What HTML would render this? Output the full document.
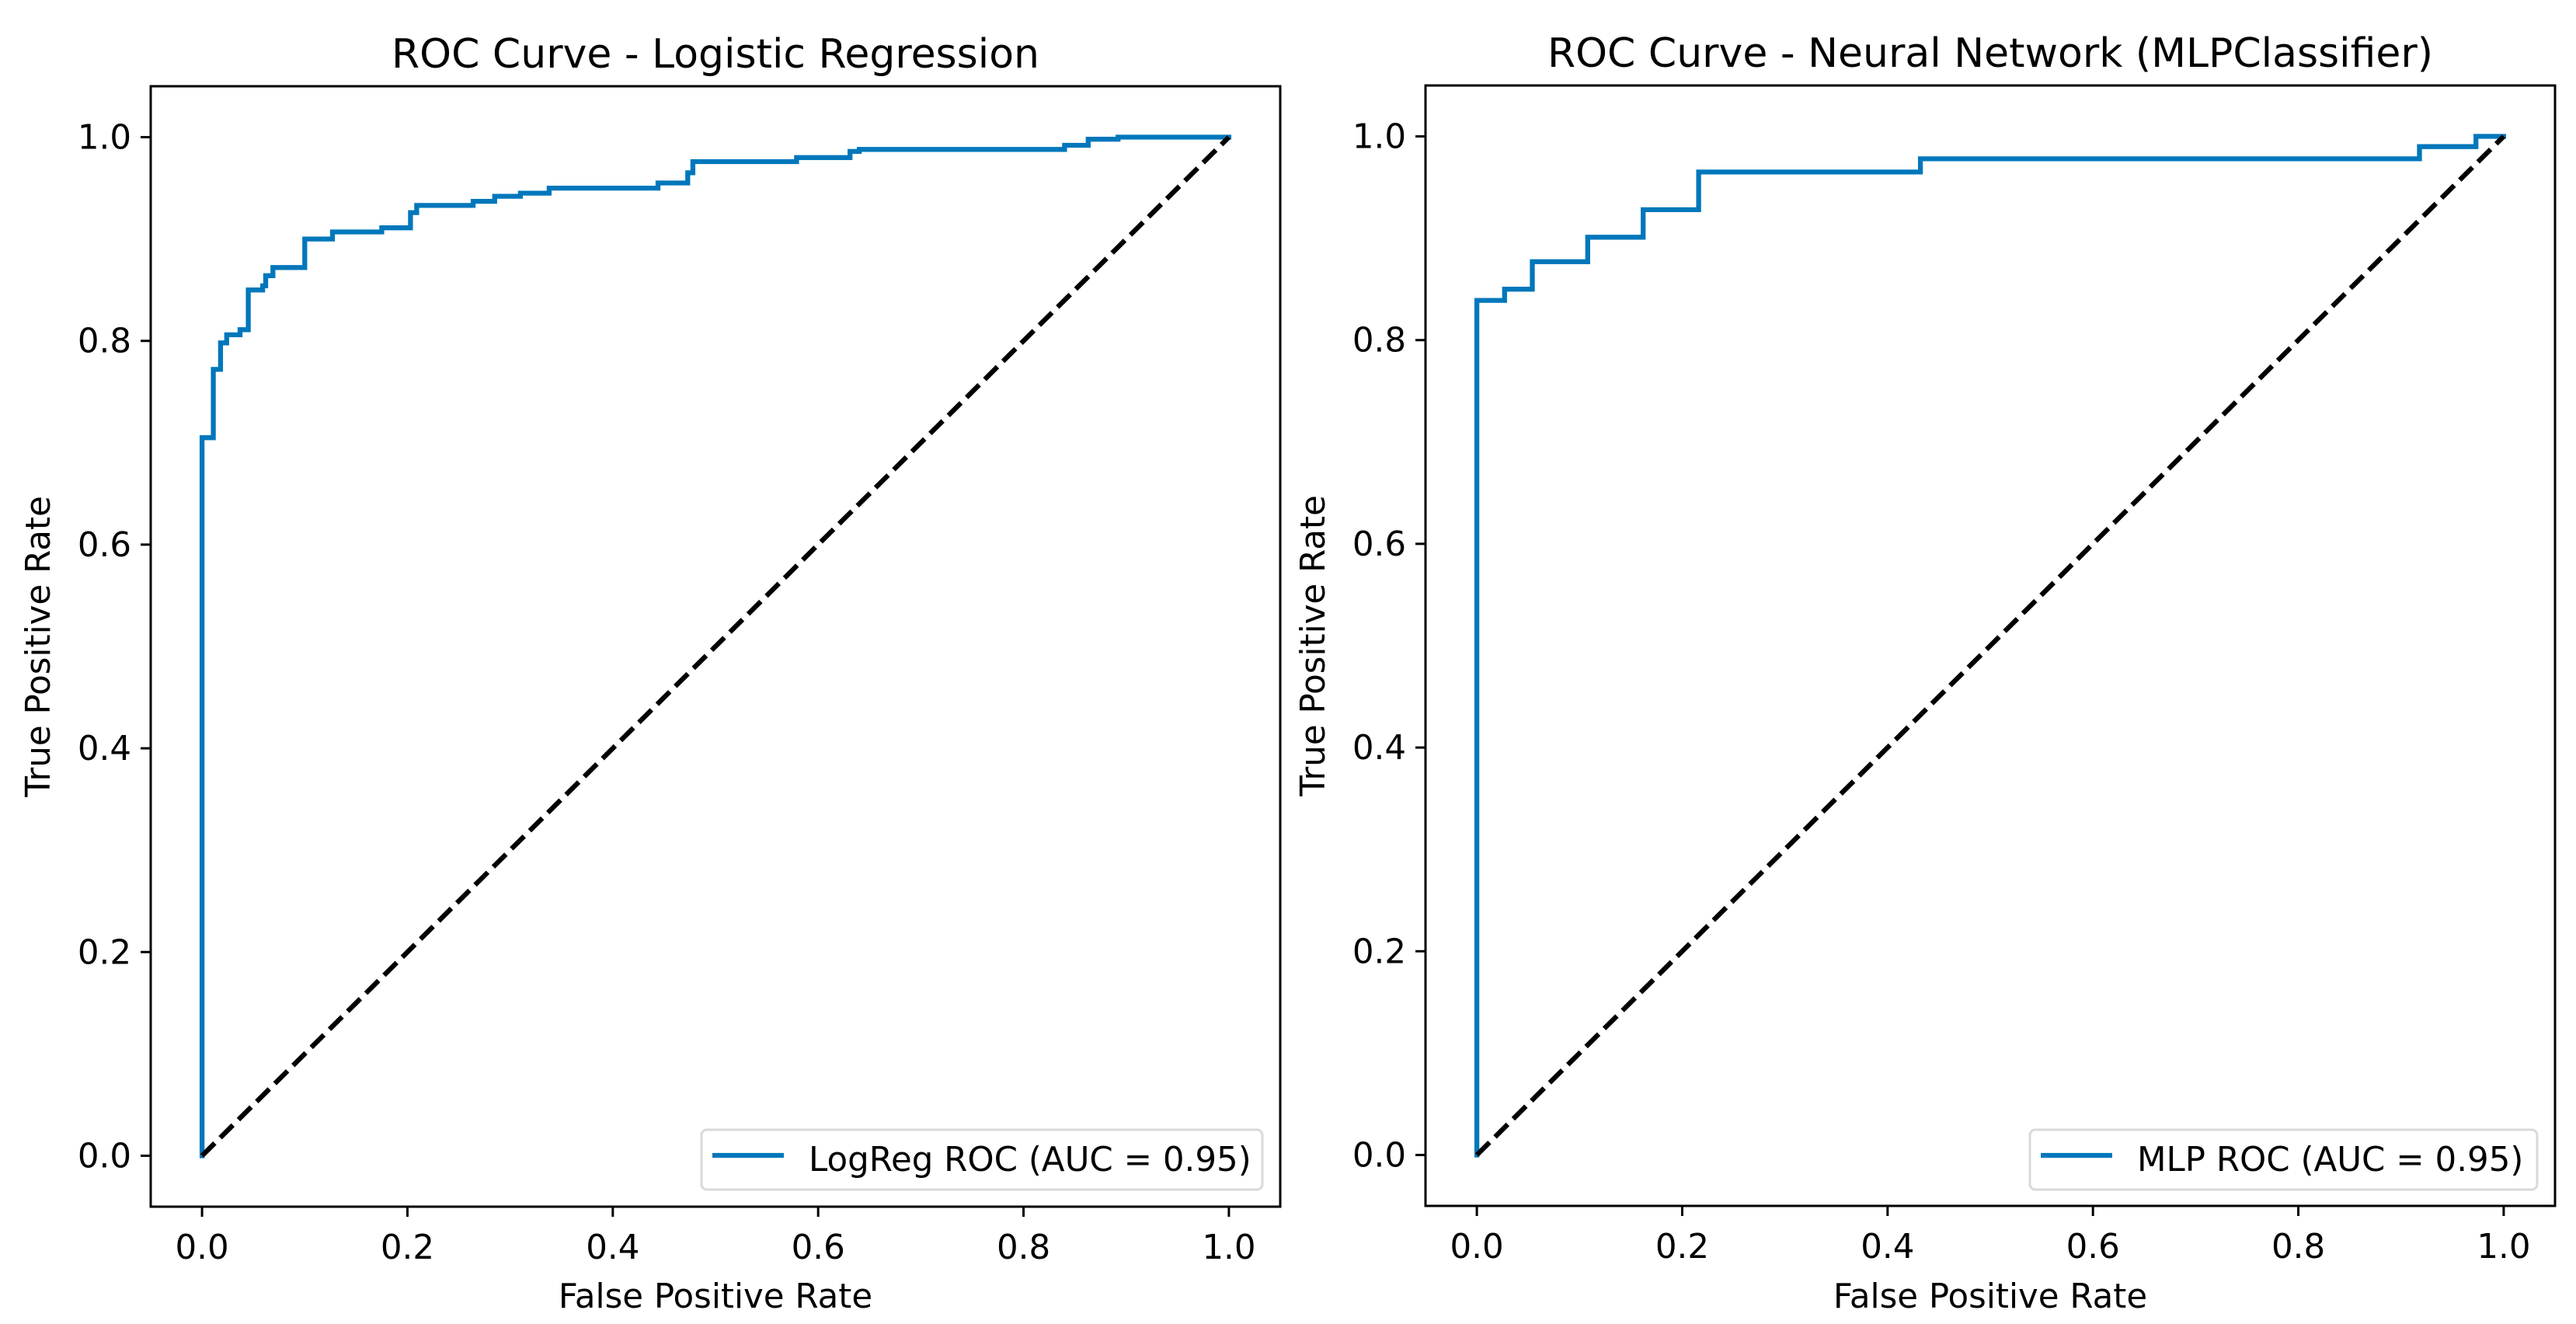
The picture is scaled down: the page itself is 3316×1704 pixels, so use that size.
<!DOCTYPE html>
<html><head><meta charset="utf-8"><style>
html,body{margin:0;padding:0;background:#fff;}
svg{display:block;font-family:"DejaVu Sans","Liberation Sans",sans-serif;}
</style></head><body>
<svg id="fig" width="3316" height="1704" viewBox="0 0 3316 1704" xmlns="http://www.w3.org/2000/svg">
<rect width="3316" height="1704" fill="#fff"/>
</svg>
<script>
const ticks = [0, 0.2, 0.4, 0.6, 0.8, 1.0];
const tickLabels = ["0.0", "0.2", "0.4", "0.6", "0.8", "1.0"];
const lrFpr = [0,0,0.011,0.011,0.018,0.018,0.024,0.024,0.037,0.037,0.045,0.045,0.059,0.059,0.062,0.062,0.069,0.069,0.100,0.100,0.127,0.127,0.175,0.175,0.203,0.203,0.209,0.209,0.264,0.264,0.285,0.285,0.310,0.310,0.338,0.338,0.444,0.444,0.473,0.473,0.478,0.478,0.579,0.579,0.631,0.631,0.640,0.640,0.840,0.840,0.863,0.863,0.892,0.892,1.0];
const lrTpr = [0,0.705,0.705,0.772,0.772,0.798,0.798,0.806,0.806,0.811,0.811,0.850,0.850,0.854,0.854,0.864,0.864,0.872,0.872,0.900,0.900,0.907,0.907,0.911,0.911,0.926,0.926,0.933,0.933,0.937,0.937,0.942,0.942,0.945,0.945,0.950,0.950,0.955,0.955,0.965,0.965,0.976,0.976,0.980,0.980,0.986,0.986,0.988,0.988,0.992,0.992,0.998,0.998,1.0,1.0];
const mlpFpr = [0,0,0.027,0.027,0.054,0.054,0.108,0.108,0.162,0.162,0.216,0.216,0.432,0.432,0.918,0.918,0.973,0.973,1.0];
const mlpTpr = [0,0.839,0.839,0.850,0.850,0.877,0.877,0.901,0.901,0.928,0.928,0.965,0.965,0.978,0.978,0.990,0.990,1.0,1.0];
const chanceX = [0, 1];
const chanceY = [0, 1];

const NS = "http://www.w3.org/2000/svg";
const svg = document.getElementById("fig");
function mk(tag, attrs, parent, text){
  const e = document.createElementNS(NS, tag);
  for (const k in attrs) e.setAttribute(k, attrs[k]);
  if (text !== undefined) e.textContent = text;
  (parent||svg).appendChild(e);
  return e;
}

function panel(cfg){
  const g = mk("g", {});
  
  
  const L = cfg.left, W = 1454, T = cfg.top, H = 1442;
  const sx = v => L + W*(v+0.05)/1.1;
  const sy = v => T + H - H*(v+0.05)/1.1;
  ticks.forEach((t,i)=>{
    const xt = mk("line",{x1:sx(t),x2:sx(t),y1:T+H,y2:T+H+13,stroke:"#000","stroke-width":3},g);
    
    
    const xl = mk("text",{x:sx(t),y:T+H+67,"font-size":43.5,"text-anchor":"middle",fill:"#000"},g,tickLabels[i]);
    
    
    const yt = mk("line",{x1:L-13,x2:L,y1:sy(t),y2:sy(t),stroke:"#000","stroke-width":3},g);
    
    
    const yl = mk("text",{x:L-25,y:sy(t)+15,"font-size":43.5,"text-anchor":"end",fill:"#000"},g,tickLabels[i]);
    
    
  });
  let d = "";
  cfg.fx.forEach((x,i)=>{ d += (i?"L":"M") + sx(x).toFixed(1) + "," + sy(cfg.fy[i]).toFixed(1); });
  const curve = mk("path",{d:d,fill:"none",stroke:"#0077bb","stroke-width":6.3,"stroke-linejoin":"miter","stroke-linecap":"square"},g);
  
  
  const ch = mk("line",{x1:sx(chanceX[0]),y1:sy(chanceY[0]),x2:sx(chanceX[1]),y2:sy(chanceY[1]),stroke:"#000","stroke-width":6.3,"stroke-dasharray":"23 10"},g);
  
  
  const fr = mk("rect",{x:L,y:T,width:W,height:H,fill:"none",stroke:"#000","stroke-width":3},g);
  
  
  const ti = mk("text",{x:L+W/2,y:T-24,"font-size":52,"text-anchor":"middle",fill:"#000"},g,cfg.title);
  
  
  const xa = mk("text",{x:L+W/2,y:1683,"font-size":43.5,"text-anchor":"middle",fill:"#000"},g,"False Positive Rate");
  
  
  const yx = cfg.ylabX, yy = T+H/2;
  const ya = mk("text",{x:yx,y:yy,"font-size":43.5,"text-anchor":"middle",fill:"#000",transform:`rotate(-90 ${yx} ${yy})`},g,"True Positive Rate");
  
  
  const lg = mk("g",{},g);
  
  
  mk("rect",{x:cfg.legX,y:1454,width:L+W-23-cfg.legX,height:77,rx:7,fill:"#fff","fill-opacity":0.8,stroke:"#d9d9d9","stroke-width":3},lg);
  const ll = mk("line",{x1:cfg.legX+14,x2:cfg.legX+106,y1:1487,y2:1487,stroke:"#0077bb","stroke-width":6.3},lg);
  
  
  const lt = mk("text",{x:cfg.legX+138,y:1507,"font-size":43.5,fill:"#000"},lg,cfg.legend);
  
  
}

panel({name:"logreg-roc-panel",curveName:"logreg-roc-curve",left:194,top:111,fx:lrFpr,fy:lrTpr,title:"ROC Curve - Logistic Regression",legend:"LogReg ROC (AUC = 0.95)",legX:903,ylabX:64});
panel({name:"mlp-roc-panel",curveName:"mlp-roc-curve",left:1835,top:110,fx:mlpFpr,fy:mlpTpr,title:"ROC Curve - Neural Network (MLPClassifier)",legend:"MLP ROC (AUC = 0.95)",legX:2613,ylabX:1705});
</script>
</body></html>
